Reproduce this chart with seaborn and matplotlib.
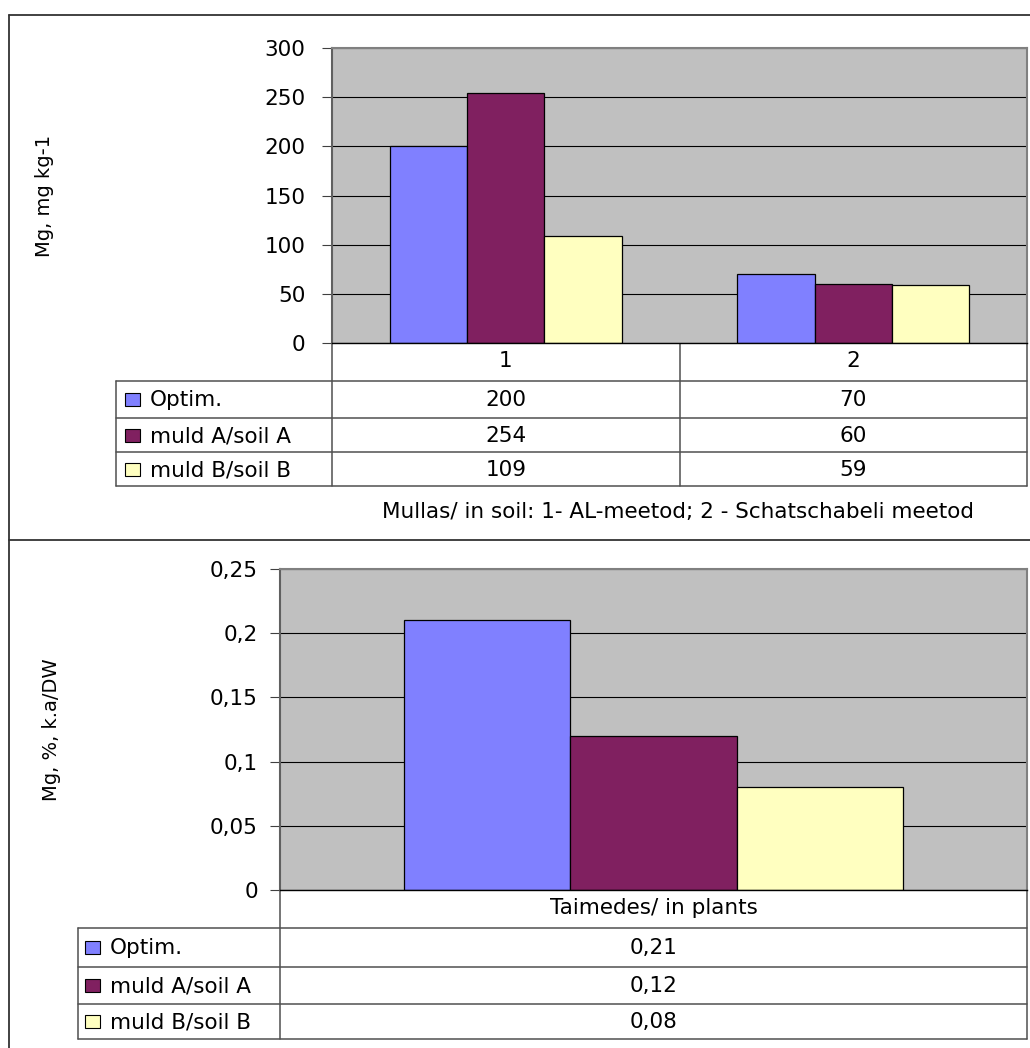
import numpy as np
import pandas as pd
import matplotlib
matplotlib.use("Agg")
import matplotlib.pyplot as plt
import matplotlib.transforms as mtransforms
from matplotlib.patches import Rectangle
import seaborn as sns

# ---------------- data ----------------
series = ["Optim.", "muld A/soil A", "muld B/soil B"]
colors = ["#8080FF", "#802060", "#FFFFC0"]

soil_categories = ["1", "2"]
soil_optim = [200, 70]
soil_muld_a = [254, 60]
soil_muld_b = [109, 59]
soil_yticks = [0, 50, 100, 150, 200, 250, 300]
soil_ylabel = "Mg, mg kg-1"
soil_xlabel = "Mullas/ in soil: 1- AL-meetod; 2 - Schatschabeli meetod"

plant_categories = ["Taimedes/ in plants"]
plant_optim = [0.21]
plant_muld_a = [0.12]
plant_muld_b = [0.08]
plant_yticks = [0, 0.05, 0.1, 0.15, 0.2, 0.25]
plant_ylabel = "Mg, %, k.a/DW"

# ---------------- style ----------------
sns.set_style("white")
plt.rcParams["font.family"] = ["DejaVu Sans"]
plt.rcParams["text.color"] = "black"
plt.rcParams["axes.labelcolor"] = "black"
plt.rcParams["xtick.color"] = "black"
plt.rcParams["ytick.color"] = "black"

W, H = 1030, 1048
fig = plt.figure(figsize=(W / 100, H / 100), dpi=100)
overlay = fig.add_axes([0, 0, 1, 1])
overlay.set_xlim(0, W)
overlay.set_ylim(H, 0)
overlay.axis("off")

LINE = "#505050"
FS = 15.5


def fmt_int(v):
    return f"{v:g}"


def fmt_comma(v):
    return f"{v:g}".replace(".", ",")


def panel(left, top, right, bottom, cats, values, yticks, fmt, ylabel,
          ylabel_x, tab_left, rows_y, key_x, text_x, ypad):
    ax = fig.add_axes([left / W, 1 - bottom / H, (right - left) / W, (bottom - top) / H])
    recs = [(c, s, v) for s, vals in zip(series, values) for c, v in zip(cats, vals)]
    df = pd.DataFrame(recs, columns=["cat", "series", "val"])
    sns.barplot(data=df, x="cat", y="val", hue="series", order=cats,
                hue_order=series, palette=colors, width=0.667, saturation=1,
                edgecolor="black", linewidth=0.9, errorbar=None, legend=False, ax=ax)
    ax.set_facecolor("#C0C0C0")
    ax.set_xlim(-0.5, len(cats) - 0.5)
    ax.set_ylim(yticks[0], yticks[-1])
    ax.set_yticks(yticks)
    ax.set_yticklabels([fmt(v) for v in yticks])
    ax.yaxis.grid(True, color="black", lw=0.8)
    ax.xaxis.grid(False)
    ax.set_axisbelow(True)
    ax.tick_params(axis="y", left=True, length=7, width=0.8, color="#404040",
                   pad=ypad, labelsize=FS, labelcolor="black")
    ax.tick_params(axis="x", length=0, pad=6, labelsize=FS, labelcolor="black")
    for name, sp in ax.spines.items():
        sp.set_visible(True)
        sp.set_color("#808080")
        sp.set_linewidth(1.5)
    ax.spines["bottom"].set_color("black")
    ax.spines["bottom"].set_linewidth(1.0)
    ax.spines["left"].set_color("#606060")
    ax.set_xlabel("")
    ax.set_ylabel(ylabel, fontsize=14, color="black")
    ax.yaxis.label.set_va("center")
    ax.yaxis.set_label_coords((ylabel_x - left) / (right - left), 0.5)

    # data table below the plot
    ncat = len(cats)
    edges = [left + i * (right - left) / ncat for i in range(ncat + 1)]
    for y in rows_y:
        overlay.plot([tab_left, right], [y, y], color=LINE, lw=1.1)
    overlay.plot([tab_left, tab_left], [rows_y[0], rows_y[-1]], color=LINE, lw=1.1)
    for x in edges:
        overlay.plot([x, x], [bottom, rows_y[-1]], color=LINE, lw=1.1)
    trans = mtransforms.blended_transform_factory(ax.transData, overlay.transData)
    for i, (s, col, vals) in enumerate(zip(series, colors, values)):
        yc = (rows_y[i] + rows_y[i + 1]) / 2
        overlay.add_patch(Rectangle((key_x, yc - 6.5), 15, 13, facecolor=col,
                                    edgecolor="black", lw=0.8))
        overlay.text(text_x, yc + 1, s, ha="left", va="center", fontsize=FS,
                     color="black")
        for j, v in enumerate(vals):
            overlay.text(j, yc + 1, fmt(v), transform=trans, ha="center",
                         va="center", fontsize=FS, color="black")
    return ax


# outer frames
overlay.plot([9, 9], [15, H], color="#333333", lw=1.3)
overlay.plot([9, W], [15, 15], color="#333333", lw=1.3)
overlay.plot([9, W], [540, 540], color="#333333", lw=1.3)

ax1 = panel(332, 48, 1027, 343, soil_categories,
            [soil_optim, soil_muld_a, soil_muld_b], soil_yticks, fmt_int,
            soil_ylabel, 45, 116, [381, 418, 452, 486], 125, 150, 12)
overlay.text(678, 512, soil_xlabel, ha="center", va="center", fontsize=FS,
             color="black")

ax2 = panel(280, 569, 1027, 890, plant_categories,
            [plant_optim, plant_muld_a, plant_muld_b], plant_yticks, fmt_comma,
            plant_ylabel, 52, 78, [928, 967, 1004, 1039], 85, 110, 9)

fig.savefig("out.png", dpi=100)
